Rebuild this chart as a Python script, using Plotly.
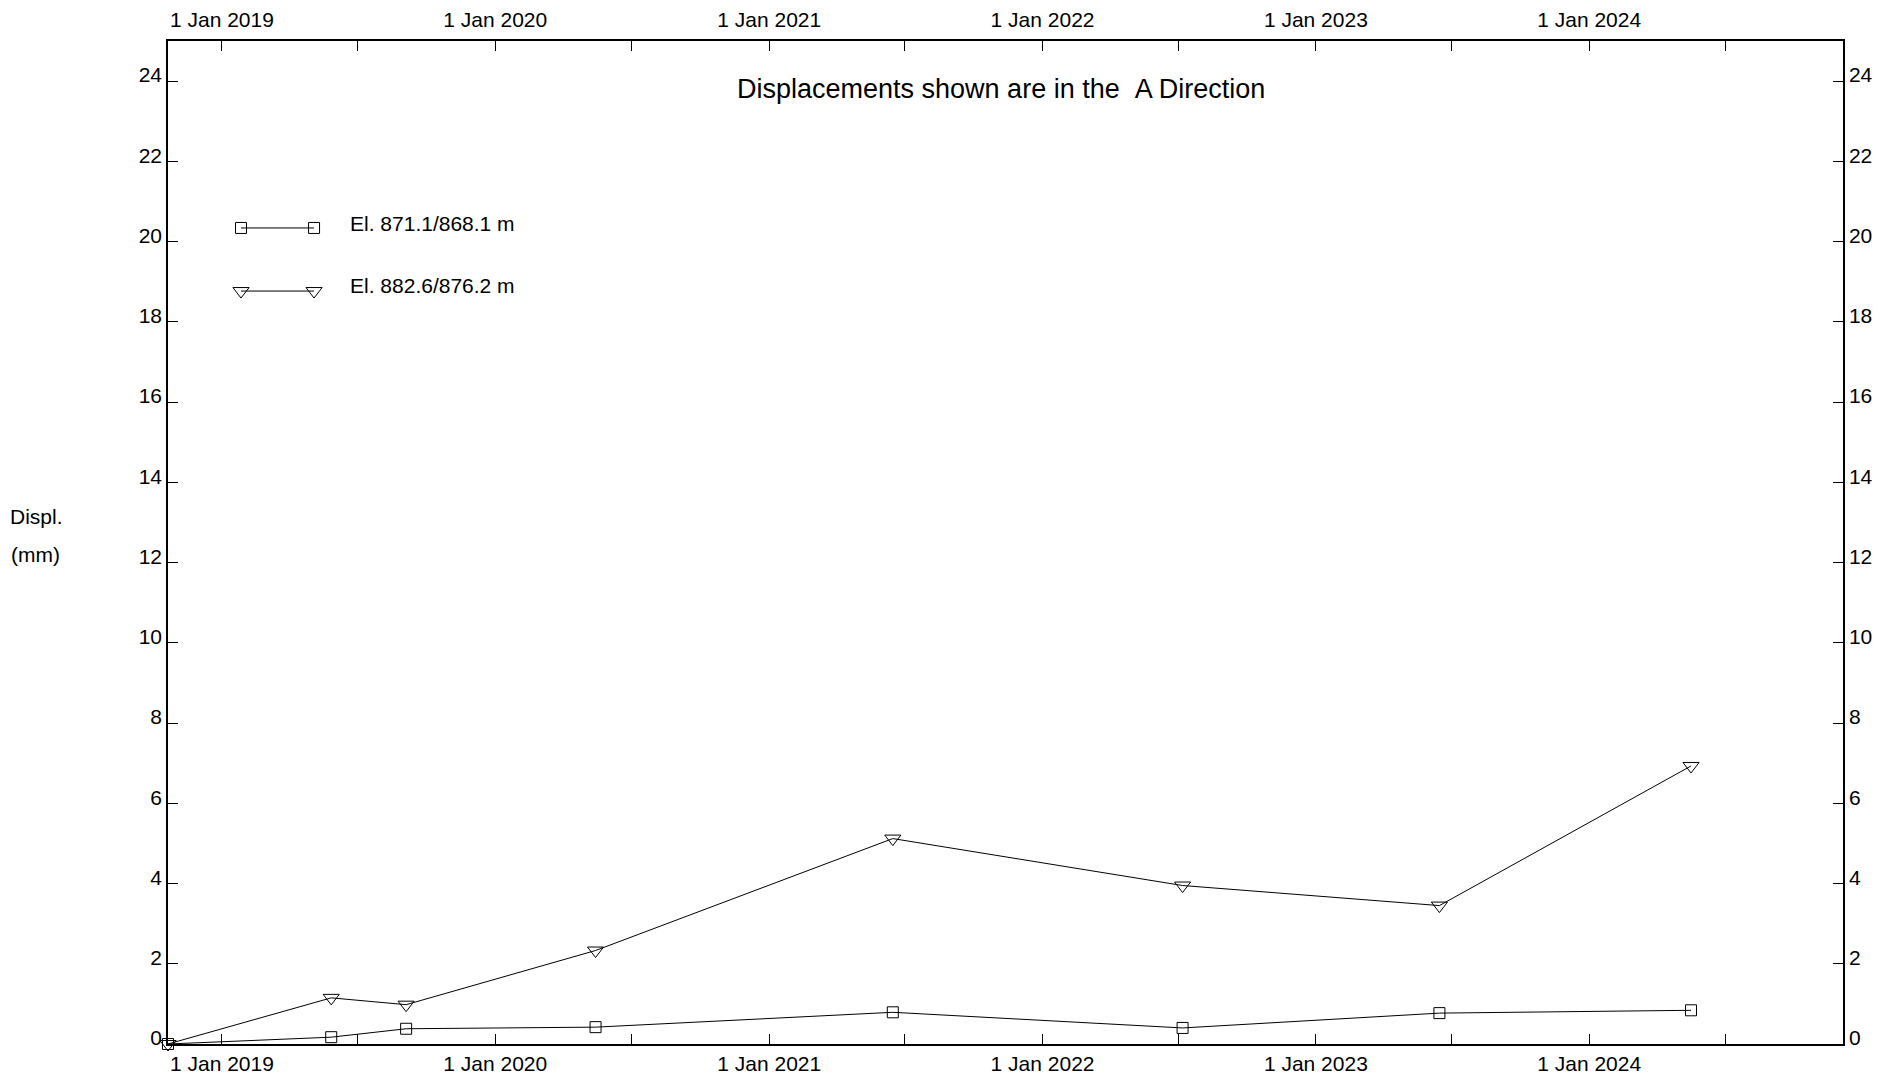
import plotly.graph_objects as go

# ---- data ----
dates = ["2018-10-21", "2019-05-27", "2019-09-04", "2020-05-14",
         "2021-06-15", "2022-07-07", "2023-06-15", "2024-05-16"]
disp_871 = [0.0, 0.17, 0.38, 0.42, 0.79, 0.40, 0.77, 0.84]
disp_882 = [0.0, 1.15, 0.98, 2.33, 5.12, 3.95, 3.45, 6.93]
series_names = ["El. 871.1/868.1 m", "El. 882.6/876.2 m"]
x_range = ["2018-10-21", "2024-12-05"]
y_range = [0, 25]
title_text = "Displacements shown are in the \u00a0A Direction"
y_title = ["Displ.", "(mm)"]

FONT = "Liberation Sans, Arial, Helvetica, sans-serif"
BLACK = "#000000"
sq_marker = dict(symbol="square-open", size=11, color=BLACK, line=dict(width=1, color=BLACK))
tri_marker = dict(symbol="triangle-down-open", size=14, color=BLACK, line=dict(width=1, color=BLACK))
line_style = dict(color=BLACK, width=1)

fig = go.Figure()
fig.add_trace(go.Scatter(x=dates, y=disp_871, mode="lines+markers", name=series_names[0],
                         line=line_style, marker=sq_marker, cliponaxis=False,
                         xaxis="x", yaxis="y", showlegend=False))
fig.add_trace(go.Scatter(x=dates, y=disp_882, mode="lines+markers", name=series_names[1],
                         line=line_style, marker=tri_marker, cliponaxis=False,
                         xaxis="x2", yaxis="y2", showlegend=False))

# custom legend drawn on an invisible overlay axis (0..1 box)
leg_x = [0.0436, 0.0872]
leg_y = [0.8136, 0.7507]
fig.add_trace(go.Scatter(x=leg_x, y=[leg_y[0]] * 2, mode="lines+markers", line=line_style,
                         marker=sq_marker, xaxis="x3", yaxis="y3", showlegend=False,
                         hoverinfo="skip", cliponaxis=False))
fig.add_trace(go.Scatter(x=leg_x, y=[leg_y[1]] * 2, mode="lines+markers", line=line_style,
                         marker=tri_marker, xaxis="x3", yaxis="y3", showlegend=False,
                         hoverinfo="skip", cliponaxis=False))

tickfont = dict(family=FONT, size=21, color=BLACK)
minor = dict(dtick="M6", tick0="2019-01-01", ticks="inside", ticklen=10,
             tickcolor=BLACK, tickwidth=1, showgrid=False)
xcommon = dict(type="date", range=x_range, showline=True, linecolor=BLACK, linewidth=1.5,
               ticks="inside", ticklen=10, tickcolor=BLACK, tickwidth=1,
               tickformat="%-d %b %Y", dtick="M12", tick0="2019-01-01", automargin=False,
               minor=minor, showgrid=False, zeroline=False, tickfont=tickfont)
ycommon = dict(range=y_range, dtick=2, tick0=0, showline=True, linecolor=BLACK, linewidth=1.5,
               ticks="inside", ticklen=10, tickcolor=BLACK, tickwidth=1, automargin=False,
               showgrid=False, zeroline=False, tickfont=tickfont, ticklabelshift=-6)

annotations = [
    dict(text=title_text, xref="paper", yref="paper", x=0.4975, y=0.9524,
         xanchor="center", yanchor="middle", showarrow=False,
         font=dict(family=FONT, size=27, color=BLACK)),
    dict(text=y_title[0], xref="paper", yref="paper", x=-0.0958, y=0.5264,
         xanchor="left", yanchor="middle", showarrow=False,
         font=dict(family=FONT, size=21, color=BLACK)),
    dict(text=y_title[1], xref="paper", yref="paper", x=-0.0952, y=0.4885,
         xanchor="left", yanchor="middle", showarrow=False,
         font=dict(family=FONT, size=21, color=BLACK)),
    dict(text=series_names[0], xref="paper", yref="paper", x=0.1075, y=0.8176,
         xanchor="left", yanchor="middle", showarrow=False,
         font=dict(family=FONT, size=21, color=BLACK)),
    dict(text=series_names[1], xref="paper", yref="paper", x=0.1075, y=0.7567,
         xanchor="left", yanchor="middle", showarrow=False,
         font=dict(family=FONT, size=21, color=BLACK)),
]

fig.update_layout(
    width=1880, height=1079,
    margin=dict(l=168, r=37, t=41, b=35, pad=0, autoexpand=False),
    paper_bgcolor="white", plot_bgcolor="white",
    font=dict(family=FONT, size=21, color=BLACK),
    xaxis=dict(**xcommon, side="bottom", anchor="y", domain=[0, 1]),
    xaxis2=dict(**xcommon, side="top", anchor="y", overlaying="x", matches="x",
                ticklabelstandoff=4),
    yaxis=dict(**ycommon, side="left", anchor="x", domain=[0, 1]),
    yaxis2=dict(**ycommon, side="right", anchor="x", overlaying="y", matches="y"),
    xaxis3=dict(range=[0, 1], visible=False, overlaying="x", anchor="y3"),
    yaxis3=dict(range=[0, 1], visible=False, overlaying="y", anchor="x3"),
    annotations=annotations,
    showlegend=False,
)

fig.write_html("out.html", config={"displayModeBar": False},
               post_script="document.body.style.margin='0';document.body.style.overflow='hidden';")
